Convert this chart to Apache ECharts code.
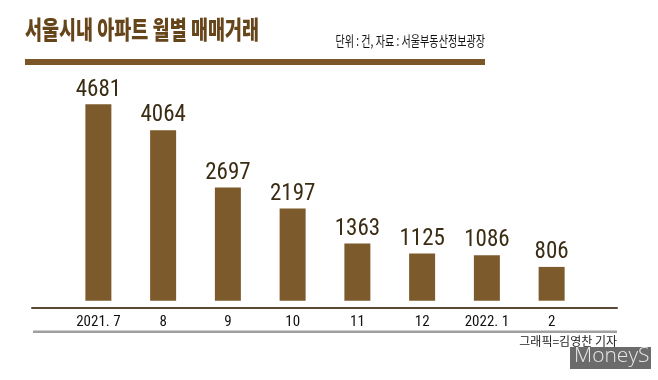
<!DOCTYPE html>
<html><head><meta charset="utf-8">
<script src="https://cdn.jsdelivr.net/npm/echarts@6/dist/echarts.min.js"></script>
<style>html,body{margin:0;padding:0;background:#fff}#c{width:658px;height:380px}</style>
</head><body><div id="c"></div>
<script>
const categories = ['2021. 7','8','9','10','11','12','2022. 1','2'];
const values = [4681,4064,2697,2197,1363,1125,1086,806];
const titleText = '서울시내 아파트 월별 매매거래';
const subText = '단위 : 건, 자료 : 서울부동산정보광장';
const creditText = '그래픽=김영찬 기자';

const brown = '#7d5a2b';
const narrow = '"Roboto Condensed",Roboto,Arial,sans-serif';
const chart = echarts.init(document.getElementById('c'));
chart.setOption({
  backgroundColor:'#fff',
  animation:false,
  grid:[
    {left:66,right:74,top:70,bottom:73},
    {left:32,right:41,top:70,bottom:72}
  ],
  xAxis:[
    {type:'category',gridIndex:0,data:categories,
     axisLine:{show:false},axisTick:{show:false},
     axisLabel:{interval:0,color:'#111',fontSize:15,fontFamily:narrow,margin:8}},
    {type:'value',gridIndex:1,min:0,max:1,
     axisLine:{show:true,lineStyle:{color:'#5b4a33',width:2}},
     axisTick:{show:false},axisLabel:{show:false},splitLine:{show:false}}
  ],
  yAxis:[
    {type:'value',gridIndex:0,min:-150,max:5500,show:false,splitLine:{show:false}},
    {type:'value',gridIndex:1,min:0,max:1,show:false,splitLine:{show:false}}
  ],
  series:[{
    type:'bar',xAxisIndex:0,yAxisIndex:0,data:values,barWidth:26,
    itemStyle:{color:brown},
    label:{show:true,position:'top',distance:3,color:'#3b2c14',fontSize:23,fontFamily:narrow}
  }],
  graphic:[
    {type:'text',left:25,top:17,scaleX:0.74,style:{text:titleText,fill:'#654519',font:'900 25px "Noto Sans CJK KR"'}},
    {type:'text',right:173,top:34,scaleX:0.72,style:{text:subText,fill:'#111',font:'14px "Noto Sans CJK KR"'}},
    {type:'rect',shape:{x:25,y:59,width:460,height:6},style:{fill:'#7a5628'}},
    {type:'rect',shape:{x:33,y:330.5,width:584,height:2.5},style:{fill:'#a0a0a0'}},
    {type:'text',right:41,top:335,style:{text:creditText,fill:'#222',font:'12px "Noto Sans CJK KR"'}},
    {type:'rect',shape:{x:570,y:347,width:81,height:22},style:{fill:'#6b6b6b'}},
    {type:'text',x:574,y:346,style:{text:'MoneyS',fill:'#e6e6e6',font:'300 21px "Open Sans",Lato,sans-serif'}}
  ]
});
</script></body></html>
